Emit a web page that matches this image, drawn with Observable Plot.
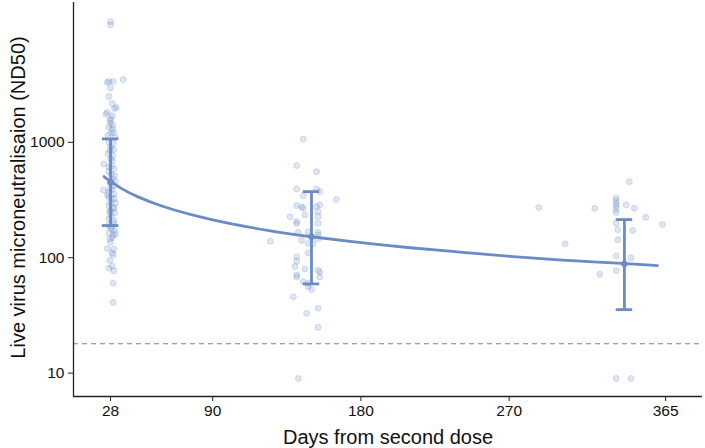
<!DOCTYPE html>
<html>
<head>
<meta charset="utf-8">
<script src="https://cdn.jsdelivr.net/npm/d3@7"></script>
<script src="https://cdn.jsdelivr.net/npm/@observablehq/plot@0.6"></script>
<style>
  body { margin: 0; background: #fff; }
  #chart { width: 705px; height: 448px; }
</style>
</head>
<body>
<div id="chart"></div>
<script>
// ---- data ----
const xTicks = [28, 90, 180, 270, 365];
const yTicks = [10, 100, 1000];
const limitOfDetection = 18;

// individual samples: [day (jittered), ND50]
const pointsDay28 = [
  [28,11100],[28,10400],[27,3360],[29.6,3360],[35.7,3490],[26,3300],[28,2960],[27,2490],[29,2165],[31.5,2000],
  [30.4,1960],[26,1820],[25,1750],[29,1700],[28.2,1600],[27.6,1540],[28,1460],[29.5,1400],[27,1350],[29,1300],
  [28.4,1200],[30,1220],[26.5,1150],[30.8,1100],[27,1000],[29.6,970],[28,905],[30,860],[27.8,840],[26.5,800],
  [29.5,760],[28,720],[29,690],[23.9,650],[28.5,620],[27,610],[30,590],[26.8,560],[28.4,530],[30.4,515],
  [29.2,480],[31,460],[28,450],[30,420],[27.5,400],[29,390],[23.6,387],[27,370],[30,357],[26,350],
  [27,333],[28.4,330],[30,323],[28,300],[31,298],[27,283],[30.2,270],[29.6,268],[28,256],[27.2,250],
  [30.4,244],[28.4,232],[27,217],[30,210],[29.8,200],[26.8,190],[28.5,185],[28.4,178],[30.4,172],[27,164],
  [31,160],[29.6,158],[29,150],[27.5,145],[28,136],[26,120],[30,119],[28.8,110],[29.6,106],[27.6,95],
  [29,85],[27,81],[30,77],[29.6,60],[29.6,41]
];
const pointsDay150 = [
  [145,1062],[141,628],[153,557],[141,394],[145,345],[153,394],[155,374],[165,319],[141,283],[144,275],
  [145,268],[153,277],[155,287],[146,235],[154,251],[154,228],[137,226],[141,206],[141,198],[154,199],
  [142,166],[148,168],[154,166],[125,139],[144,141],[148,133],[151,132],[154,158],[154,146],[148,110],
  [141,102],[141,93],[140,84],[146,80],[154,78],[155,75],[141,71],[141,68],[155,68],[145,62],
  [148,60],[148,56],[150,53],[139,46],[154,36.5],[147,33],[154,25],[142,9]
];
const pointsDay340 = [
  [288,272],[304,132],[343,456],[335,330],[335,312],[335,296],[335,281],[335,265],[335,247],[341,287],
  [346,268],[322,268],[353,224],[335,199],[336,175],[345,172],[363,194],[336,143],[335,104],[344,100],
  [335,77],[325,72],[335,9],[344,9]
];

// geometric mean and 95% CI per time point
const summaryDay = [28, 150, 340];
const summaryMean = [450, 152, 88.5];
const summaryLow = [190, 59.3, 35.5];
const summaryHigh = [1070, 374, 214];

// fitted decay curve
const curveDay = [24, 28, 35, 45, 60, 80, 100, 125, 150, 180, 210, 240, 270, 300, 330, 360];
const curveVal = [505, 458, 395, 335, 278, 230, 198, 171, 152, 135, 122, 112, 103, 96, 90.6, 85.5];

// ---- build tables ----
const points = [...pointsDay28, ...pointsDay150, ...pointsDay340].map(([day, v]) => ({day, v}));
const summary = summaryDay.map((d, i) => ({day: d, mean: summaryMean[i], lo: summaryLow[i], hi: summaryHigh[i]}));
const curve = curveDay.map((d, i) => ({day: d, v: curveVal[i]}));

const blue = "#6A8BC7";
const xDomain = [5.5, 387.4];
const yDomain = [6.28, 16250];
const capHalf = 5;

const chart = Plot.plot({
  width: 705,
  height: 448,
  marginLeft: 73,
  marginRight: 3,
  marginTop: 2,
  marginBottom: 52,
  style: {fontFamily: "'Liberation Sans', Arial, sans-serif", fontSize: "15.5px", color: "#111", background: "#fff"},
  x: {domain: xDomain, label: null},
  y: {type: "log", domain: yDomain, label: null},
  marks: [
    Plot.ruleY([limitOfDetection], {stroke: "#808080", strokeWidth: 1.1, strokeDasharray: "5,4"}),
    Plot.dot(points, {x: "day", y: "v", r: 3, fill: blue, fillOpacity: 0.22, stroke: blue, strokeOpacity: 0.3, strokeWidth: 0.8}),
    Plot.line(curve, {x: "day", y: "v", stroke: blue, strokeWidth: 2.8, curve: "natural"}),
    Plot.ruleX(summary, {x: "day", y1: "lo", y2: "hi", stroke: blue, strokeWidth: 2.8}),
    Plot.ruleY(summary, {y: "hi", x1: d => d.day - capHalf, x2: d => d.day + capHalf, stroke: blue, strokeWidth: 2.8}),
    Plot.ruleY(summary, {y: "lo", x1: d => d.day - capHalf, x2: d => d.day + capHalf, stroke: blue, strokeWidth: 2.8}),
    Plot.dot(summary, {x: "day", y: "mean", r: 3.2, fill: blue}),
    Plot.axisX({ticks: xTicks, tickFormat: d => String(d), tickSize: 5, tickPadding: 3, fontSize: 15.5, label: null, stroke: "#222"}),
    Plot.axisY({ticks: yTicks, tickFormat: d => String(d), tickSize: 5, tickPadding: 4, fontSize: 15.5, label: null, stroke: "#222"}),
    Plot.ruleX([xDomain[0]], {stroke: "#222", strokeWidth: 1.3}),
    Plot.ruleY([yDomain[0]], {stroke: "#222", strokeWidth: 1.3}),
    Plot.text(["Days from second dose"], {frameAnchor: "bottom", dy: 41, fontSize: 20, fill: "#111", textAnchor: "middle", lineAnchor: "middle"}),
    Plot.text(["Live virus microneutralisaion (ND50)"], {frameAnchor: "left", dx: -55, dy: -2, rotate: -90, fontSize: 20, fill: "#111", textAnchor: "middle", lineAnchor: "middle"})
  ]
});
document.getElementById("chart").appendChild(chart);
</script>
</body>
</html>
